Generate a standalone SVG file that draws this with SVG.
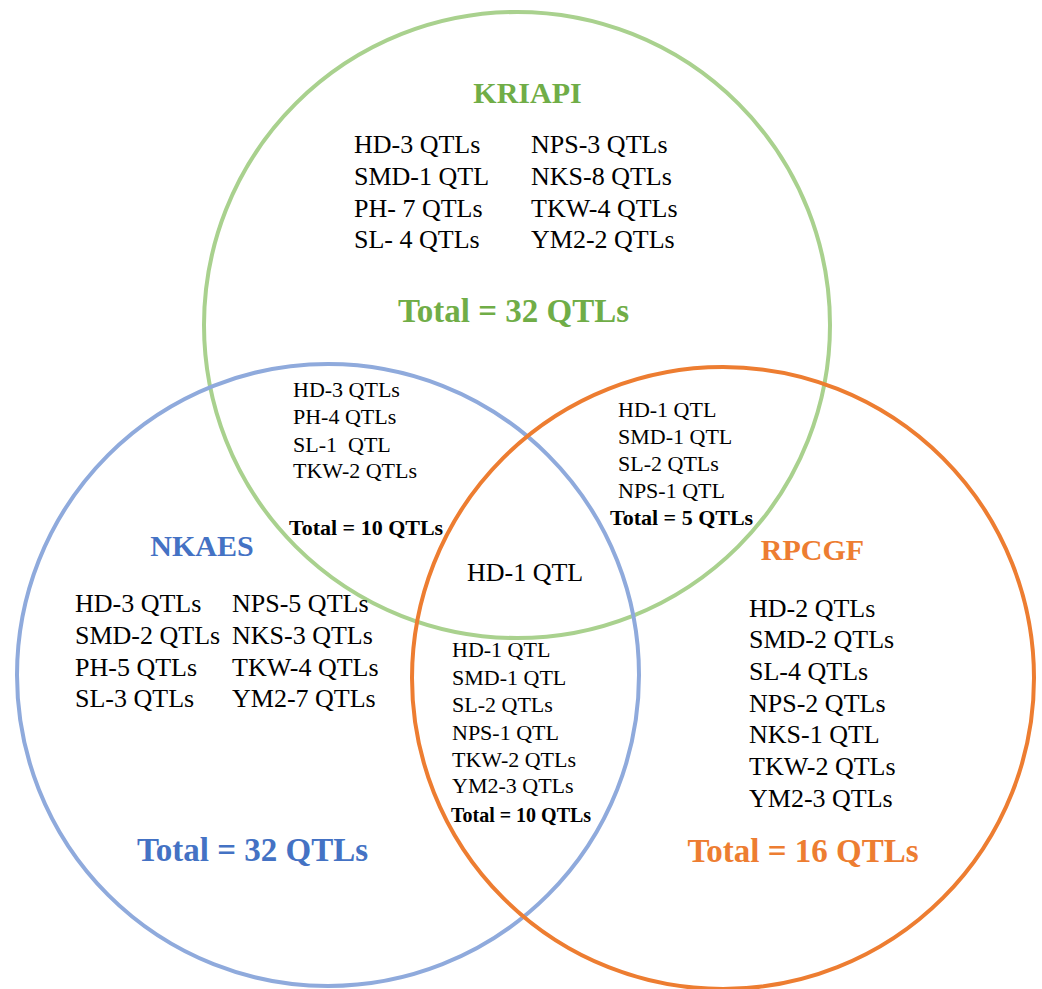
<svg xmlns="http://www.w3.org/2000/svg" width="1042" height="989" viewBox="0 0 1042 989">
<style>
.c{fill:none;stroke-width:4}
.t{font-family:"Liberation Serif","Times New Roman",serif;fill:#000}
.l26{font-size:26px}
.l22{font-size:22px}
.b{font-weight:bold}
.g{fill:#70AD47}
.bl{fill:#4472C4}
.o{fill:#ED7D31}
</style>
<rect width="1042" height="989" fill="#fff"/>
<g id="connectors"></g>
<g id="circle-kriapi"><circle class="c" cx="517" cy="325" r="313" stroke="#A9D18E"/></g>
<g id="circle-nkaes"><circle class="c" cx="328" cy="675" r="311" stroke="#8FAADC"/></g>
<g id="circle-rpcgf"><circle class="c" cx="723" cy="678" r="311" stroke="#ED7D31"/></g>

<g id="kriapi" class="t">
<text class="b g" x="527.5" y="103" font-size="30" text-anchor="middle">KRIAPI</text>
<g class="l26">
<text x="354" y="153">HD-3 QTLs</text>
<text x="354" y="185">SMD-1 QTL</text>
<text x="354" y="217">PH- 7 QTLs</text>
<text x="354" y="248">SL- 4 QTLs</text>
<text x="531" y="153">NPS-3 QTLs</text>
<text x="531" y="185">NKS-8 QTLs</text>
<text x="531" y="217">TKW-4 QTLs</text>
<text x="531" y="248">YM2-2 QTLs</text>
</g>
<text class="b g" x="513.5" y="322" font-size="33" text-anchor="middle">Total = 32 QTLs</text>
</g>

<g id="kriapi-nkaes" class="t">
<g class="l22">
<text x="293" y="397">HD-3 QTLs</text>
<text x="293" y="424">PH-4 QTLs</text>
<text x="293" y="452" xml:space="preserve">SL-1  QTL</text>
<text x="293" y="478">TKW-2 QTLs</text>
</g>
<text class="b" x="289" y="535" font-size="22">Total = 10 QTLs</text>
</g>

<g id="kriapi-rpcgf" class="t">
<g class="l22">
<text x="618" y="417">HD-1 QTL</text>
<text x="618" y="444">SMD-1 QTL</text>
<text x="618" y="471">SL-2 QTLs</text>
<text x="618" y="498">NPS-1 QTL</text>
</g>
<text class="b" x="610" y="525" font-size="22">Total = 5 QTLs</text>
</g>

<g id="all-three" class="t">
<text class="l26" x="467" y="581">HD-1 QTL</text>
</g>

<g id="nkaes" class="t">
<text class="b bl" x="202" y="556" font-size="30" text-anchor="middle">NKAES</text>
<g class="l26">
<text x="75" y="612">HD-3 QTLs</text>
<text x="75" y="644">SMD-2 QTLs</text>
<text x="75" y="676">PH-5 QTLs</text>
<text x="75" y="707">SL-3 QTLs</text>
<text x="232" y="612">NPS-5 QTLs</text>
<text x="232" y="644">NKS-3 QTLs</text>
<text x="232" y="676">TKW-4 QTLs</text>
<text x="232" y="707">YM2-7 QTLs</text>
</g>
<text class="b bl" x="252.5" y="861" font-size="33" text-anchor="middle">Total = 32 QTLs</text>
</g>

<g id="nkaes-rpcgf" class="t">
<g class="l22">
<text x="452" y="657">HD-1 QTL</text>
<text x="452" y="685">SMD-1 QTL</text>
<text x="452" y="712">SL-2 QTLs</text>
<text x="452" y="740">NPS-1 QTL</text>
<text x="452" y="767">TKW-2 QTLs</text>
<text x="452" y="793">YM2-3 QTLs</text>
</g>
<text class="b" x="451" y="822" font-size="20">Total = 10 QTLs</text>
</g>

<g id="rpcgf" class="t">
<text class="b o" x="812.5" y="560" font-size="30" text-anchor="middle">RPCGF</text>
<g class="l26">
<text x="749" y="617">HD-2 QTLs</text>
<text x="749" y="648">SMD-2 QTLs</text>
<text x="749" y="680">SL-4 QTLs</text>
<text x="749" y="712">NPS-2 QTLs</text>
<text x="749" y="743">NKS-1 QTL</text>
<text x="749" y="775">TKW-2 QTLs</text>
<text x="749" y="807">YM2-3 QTLs</text>
</g>
<text class="b o" x="803" y="862" font-size="33" text-anchor="middle">Total = 16 QTLs</text>
</g>
</svg>
